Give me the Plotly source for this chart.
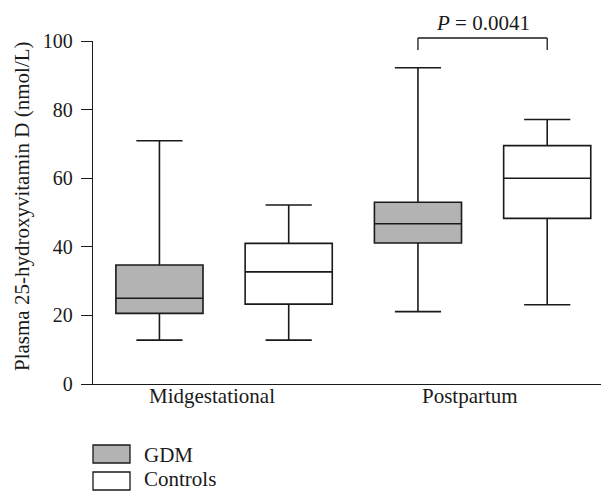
import plotly.graph_objects as go

# ---- data ----
categories = ["Midgestational", "Postpartum"]
cat_pos = [0, 1]
groups = ["GDM", "Controls"]
group_offset = [-0.25, 0.25]
group_fill = ["#b3b3b3", "#ffffff"]

# [Midgestational, Postpartum]
gdm_min = [12.8, 21.1]
gdm_q1 = [20.6, 41.1]
gdm_median = [25.0, 46.7]
gdm_q3 = [34.7, 53.0]
gdm_max = [70.9, 92.2]

ctrl_min = [12.8, 23.1]
ctrl_q1 = [23.3, 48.3]
ctrl_median = [32.7, 60.0]
ctrl_q3 = [41.0, 69.5]
ctrl_max = [52.2, 77.1]

y_ticks = [0, 20, 40, 60, 80, 100]
p_label = "<i>P</i> = 0.0041"

stats = {
    "GDM": (gdm_min, gdm_q1, gdm_median, gdm_q3, gdm_max),
    "Controls": (ctrl_min, ctrl_q1, ctrl_median, ctrl_q3, ctrl_max),
}

FONT = "Liberation Serif, Times New Roman, serif"
INK = "#1a1a1a"
OFF = 8  # page body margin in the browser
W, H = 609 - OFF, 491 - OFF
# plot area in screenshot pixels
PLOT_TOP, PLOT_BOTTOM, PLOT_LEFT, PLOT_RIGHT = 41, 384, 93, 609
LABEL_SHIFT = -0.048  # category labels sit slightly left of group centres


def py(px):  # screenshot pixel y -> paper y
    return (PLOT_BOTTOM - px) / (PLOT_BOTTOM - PLOT_TOP)


def pxx(px):  # screenshot pixel x -> paper x
    return (px - PLOT_LEFT) / (PLOT_RIGHT - PLOT_LEFT)


fig = go.Figure()
for g, off, fill in zip(groups, group_offset, group_fill):
    mn, q1, md, q3, mx = stats[g]
    fig.add_trace(go.Box(
        name=g,
        x=[c + off for c in cat_pos],
        lowerfence=mn, q1=q1, median=md, q3=q3, upperfence=mx,
        fillcolor=fill,
        line=dict(color=INK, width=1.6),
        width=0.337,
        whiskerwidth=0.53,
        boxpoints=False,
        showlegend=False,
        hoverinfo="skip",
    ))

# significance bracket between postpartum boxes
x_l = cat_pos[1] + group_offset[0]
x_r = cat_pos[1] + group_offset[1]
for xa, xb, ya, yb in [(x_l, x_l, py(50), py(38)), (x_l, x_r, py(38), py(38)), (x_r, x_r, py(38), py(50))]:
    fig.add_shape(type="line", xref="x", yref="paper", x0=xa, x1=xb, y0=ya, y1=yb,
                  line=dict(color=INK, width=1.3))
fig.add_annotation(x=cat_pos[1], y=py(23), xref="x", yref="paper", text=p_label,
                   showarrow=False, font=dict(family=FONT, size=21, color=INK),
                   yanchor="middle")

# category labels
for c, lab in zip(cat_pos, categories):
    fig.add_annotation(x=c + LABEL_SHIFT, y=py(396), xref="x", yref="paper", text=lab,
                       showarrow=False, font=dict(family=FONT, size=21, color=INK),
                       yanchor="middle")

# custom legend at the bottom-left
legend_boxes = [(445, 463), (472, 490)]
legend_text_y = [455, 479]
for g, fill, (t, b), ty in zip(groups, group_fill, legend_boxes, legend_text_y):
    fig.add_shape(type="rect", xref="paper", yref="paper",
                  x0=pxx(93), x1=pxx(130), y0=py(b), y1=py(t),
                  fillcolor=fill, line=dict(color=INK, width=1.3))
    fig.add_annotation(x=pxx(142), y=py(ty), xref="paper", yref="paper", text=g,
                       showarrow=False, xanchor="left", yanchor="middle",
                       font=dict(family=FONT, size=21, color=INK))

# y-axis title
fig.add_annotation(x=pxx(22), y=py(206), xref="paper", yref="paper",
                   text="Plasma 25-hydroxyvitamin D (nmol/L)", textangle=-90,
                   showarrow=False, xanchor="center", yanchor="middle",
                   font=dict(family=FONT, size=21, color=INK))

fig.update_layout(
    width=W, height=H,
    margin=dict(l=PLOT_LEFT - OFF, r=609 - PLOT_RIGHT, t=PLOT_TOP - OFF, b=491 - PLOT_BOTTOM,
                pad=0, autoexpand=False),
    plot_bgcolor="white", paper_bgcolor="white",
    font=dict(family=FONT, size=20, color=INK),
    showlegend=False,
    boxmode="overlay",
)
fig.update_xaxes(
    range=[-0.507, 1.489], showticklabels=False, automargin=False,
    showline=True, linecolor=INK, linewidth=1.3,
    ticks="", showgrid=False, zeroline=False,
)
fig.update_yaxes(
    range=[0, 100], tickvals=y_ticks, showline=True, linecolor=INK, linewidth=1.3,
    ticks="outside", ticklen=11, tickwidth=1.3, tickcolor=INK, automargin=False,
    showgrid=False, zeroline=False, ticklabelstandoff=4,
    tickfont=dict(family=FONT, size=20, color=INK),
)

fig.write_html("out.html")
